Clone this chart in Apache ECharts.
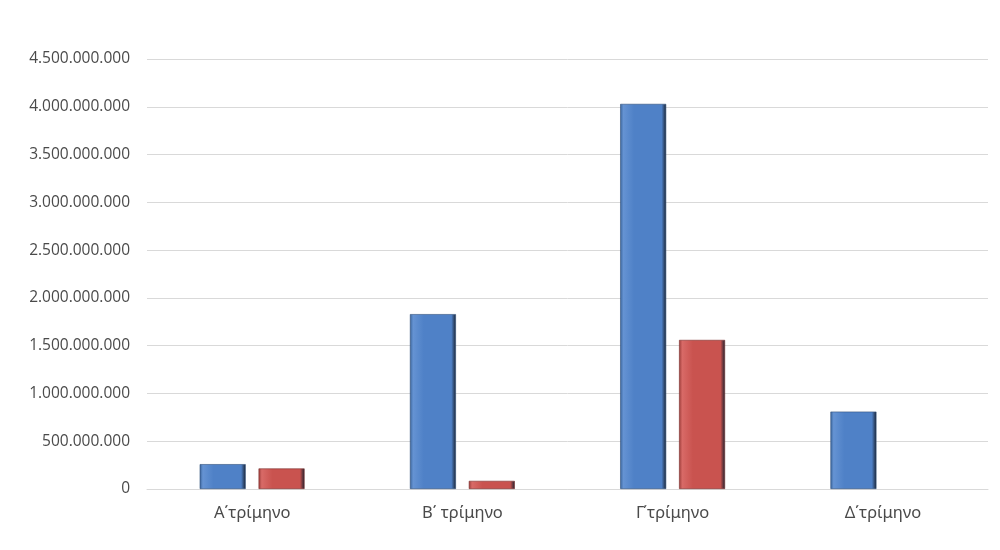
<!DOCTYPE html>
<html>
<head>
<meta charset="utf-8">
<script src="https://cdn.jsdelivr.net/npm/echarts@6/dist/echarts.min.js"></script>
<style>
  html, body { margin: 0; padding: 0; background: #fff; }
  #main { width: 1000px; height: 550px; }
</style>
</head>
<body>
<div id="main"></div>
<script>
var categories = ['Α΄τρίμηνο', 'Β΄ τρίμηνο', 'Γ΄τρίμηνο', 'Δ΄τρίμηνο'];
var blueValues = [260000000, 1830000000, 4030000000, 810000000];
var redValues = [215000000, 85000000, 1560000000, null];

var myChart = echarts.init(document.getElementById('main'));

// 点格式的千位分隔
function dotFormat(v) {
  return String(v).replace(/\B(?=(\d{3})+(?!\d))/g, '.');
}

function bevel(dark, mid, light) {
  return new echarts.graphic.LinearGradient(0, 0, 1, 0, [
    { offset: 0, color: dark },
    { offset: 0.07, color: light },
    { offset: 0.3, color: mid },
    { offset: 0.9, color: mid },
    { offset: 1, color: '#1a2230' }
  ]);
}

var option = {
  animation: false,
  grid: {
    left: 147,
    right: 12,
    top: 59,
    bottom: 61
  },
  xAxis: {
    type: 'category',
    data: categories,
    axisTick: { show: false },
    axisLine: { lineStyle: { color: '#d9d9d9' } },
    axisLabel: {
      color: '#4a4a4a',
      fontFamily: 'Noto Sans',
      fontSize: 16.5,
      margin: 16
    }
  },
  yAxis: {
    type: 'value',
    min: 0,
    max: 4500000000,
    interval: 500000000,
    axisLine: { show: false },
    axisTick: { show: false },
    splitLine: { lineStyle: { color: '#d9d9d9', width: 1 } },
    axisLabel: {
      color: '#4a4a4a',
      fontFamily: 'Open Sans',
      fontSize: 15.5,
      margin: 17,
      formatter: dotFormat
    }
  },
  series: [{
    name: 'blue',
    type: 'bar',
    data: blueValues,
    barWidth: 46,
    barGap: '28%',
    itemStyle: {
      color: bevel('#3a649a', '#4f81c7', '#6593d3'),
      borderColor: '#2f4f7a',
      borderWidth: 0.6
    }
  }, {
    name: 'red',
    type: 'bar',
    data: redValues,
    barWidth: 46,
    itemStyle: {
      color: bevel('#9a3b38', '#c9534f', '#d86a67'),
      borderColor: '#7a2e2c',
      borderWidth: 0.6
    }
  }]
};

myChart.setOption(option);
</script>
</body>
</html>
